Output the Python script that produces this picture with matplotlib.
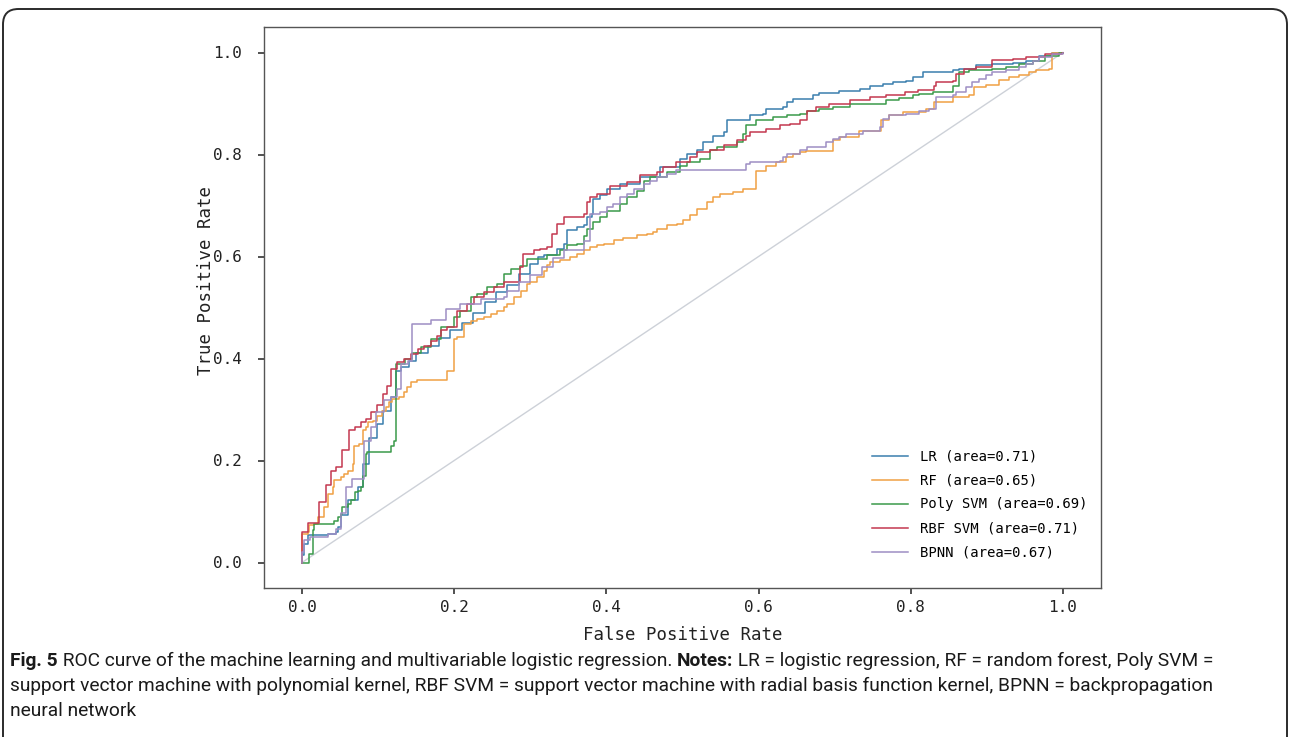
import matplotlib
matplotlib.use("Agg")
import matplotlib.pyplot as plt
from matplotlib.patches import FancyBboxPatch

# ---------------- data ----------------
labels = ["LR (area=0.71)", "RF (area=0.65)", "Poly SVM (area=0.69)",
          "RBF SVM (area=0.71)", "BPNN (area=0.67)"]
colors = ["#3b7fae", "#f0a044", "#3a9a4a", "#c4384f", "#9e8ec4"]

lr_fpr = [0, 0, 0.003, 0.003, 0.0074, 0.0074, 0.034, 0.045, 0.047, 0.051, 0.06, 0.073, 0.08, 0.088, 0.099,
          0.106, 0.117, 0.123, 0.13, 0.14, 0.15, 0.165, 0.18, 0.195, 0.21, 0.225, 0.24, 0.255, 0.27, 0.285,
          0.30, 0.31, 0.318, 0.335, 0.344, 0.348, 0.361, 0.37, 0.374, 0.381, 0.383, 0.392, 0.401, 0.418,
          0.444, 0.471, 0.497, 0.506, 0.519, 0.527, 0.54, 0.554, 0.558, 0.584, 0.589, 0.606, 0.61, 0.632,
          0.637, 0.645, 0.672, 0.68, 0.706, 0.733, 0.746, 0.763, 0.776, 0.794, 0.803, 0.816, 0.855, 0.864,
          0.886, 0.907, 0.934, 0.951, 0.969, 0.986, 1.0]
lr_tpr = [0, 0.014, 0.014, 0.037, 0.037, 0.053, 0.056, 0.06, 0.069, 0.093, 0.122, 0.148, 0.193, 0.245, 0.272,
          0.298, 0.324, 0.376, 0.383, 0.395, 0.41, 0.425, 0.44, 0.455, 0.47, 0.49, 0.51, 0.53, 0.545, 0.565,
          0.585, 0.60, 0.602, 0.615, 0.624, 0.651, 0.658, 0.661, 0.677, 0.684, 0.713, 0.72, 0.733, 0.743,
          0.756, 0.775, 0.792, 0.801, 0.808, 0.824, 0.837, 0.844, 0.867, 0.868, 0.877, 0.88, 0.89, 0.893,
          0.903, 0.909, 0.916, 0.92, 0.925, 0.929, 0.935, 0.939, 0.942, 0.945, 0.952, 0.961, 0.965, 0.968,
          0.975, 0.978, 0.979, 0.984, 0.994, 0.999, 1.0]

rf_fpr = [0, 0, 0.0074, 0.0096, 0.0162, 0.0205, 0.0293, 0.0336, 0.0402, 0.0424, 0.051, 0.0555, 0.0599,
          0.0665, 0.0686, 0.0752, 0.0795, 0.0839, 0.0861, 0.0927, 0.099, 0.1057, 0.11, 0.1144, 0.1188,
          0.1275, 0.134, 0.1385, 0.1428, 0.1516, 0.191, 0.1996, 0.204, 0.2127, 0.2215, 0.2302, 0.239,
          0.2477, 0.2564, 0.2652, 0.2696, 0.2783, 0.2871, 0.2958, 0.3001, 0.3089, 0.3176, 0.322, 0.3263,
          0.3394, 0.3526, 0.3613, 0.37, 0.3788, 0.3875, 0.3963, 0.4094, 0.4224, 0.4399, 0.453, 0.4618,
          0.4661, 0.4792, 0.4923, 0.501, 0.5098, 0.5186, 0.5317, 0.5404, 0.5492, 0.5666, 0.5797, 0.5972,
          0.6103, 0.6234, 0.6365, 0.6453, 0.654, 0.6627, 0.6977, 0.7064, 0.7326, 0.7611, 0.772, 0.7895,
          0.82, 0.8309, 0.855, 0.8768, 0.8834, 0.8986, 0.9161, 0.9293, 0.9423, 0.9554, 0.9642, 0.9817,
          0.986, 1.0]
rf_tpr = [0, 0.056, 0.06, 0.073, 0.076, 0.089, 0.108, 0.135, 0.148, 0.161, 0.167, 0.174, 0.18,
          0.193, 0.229, 0.232, 0.259, 0.265, 0.275, 0.278, 0.288, 0.298, 0.305, 0.314, 0.321,
          0.324, 0.334, 0.344, 0.353, 0.357, 0.376, 0.4386, 0.442, 0.468, 0.4745, 0.4778, 0.481,
          0.4876, 0.494, 0.5007, 0.5072, 0.5203, 0.5333, 0.5464, 0.5497, 0.5595, 0.5725, 0.5824, 0.589,
          0.5922, 0.5987, 0.6052, 0.6118, 0.6183, 0.6216, 0.6248, 0.6314, 0.6366, 0.6412, 0.6444, 0.6477,
          0.6542, 0.6608, 0.664, 0.6706, 0.6804, 0.6935, 0.7065, 0.7163, 0.7229, 0.7261, 0.7327, 0.7686,
          0.7784, 0.785, 0.7948, 0.8013, 0.8046, 0.8078, 0.8275, 0.834, 0.847, 0.8667, 0.8765, 0.883,
          0.8895, 0.9026, 0.9137, 0.9176, 0.932, 0.9353, 0.9451, 0.9516, 0.9562, 0.9614, 0.966, 0.968,
          0.999, 1.0]

poly_fpr = [0, 0.0096, 0.014, 0.016, 0.042, 0.047, 0.051, 0.053, 0.06, 0.064, 0.069, 0.073, 0.077, 0.08,
            0.084, 0.086, 0.117, 0.121, 0.123, 0.135, 0.145, 0.156, 0.169, 0.182, 0.20, 0.208, 0.222,
            0.23, 0.243, 0.256, 0.265, 0.274, 0.287, 0.296, 0.322, 0.339, 0.348, 0.361, 0.37, 0.374,
            0.383, 0.392, 0.401, 0.418, 0.427, 0.44, 0.449, 0.457, 0.479, 0.497, 0.506, 0.523, 0.536,
            0.545, 0.558, 0.571, 0.58, 0.584, 0.597, 0.619, 0.637, 0.654, 0.663, 0.68, 0.698, 0.72,
            0.746, 0.768, 0.785, 0.803, 0.811, 0.829, 0.855, 0.864, 0.877, 0.907, 0.925, 0.942, 0.96,
            0.977, 0.995, 1.0]
poly_tpr = [0, 0.017, 0.063, 0.076, 0.082, 0.089, 0.095, 0.108, 0.115, 0.122, 0.138, 0.141, 0.148, 0.17,
            0.213, 0.216, 0.229, 0.239, 0.39, 0.40, 0.41, 0.422, 0.439, 0.461, 0.481, 0.494, 0.52,
            0.527, 0.54, 0.546, 0.566, 0.576, 0.582, 0.595, 0.602, 0.612, 0.622, 0.625, 0.641, 0.654,
            0.667, 0.677, 0.69, 0.703, 0.716, 0.729, 0.749, 0.756, 0.765, 0.778, 0.785, 0.792, 0.808,
            0.814, 0.814, 0.824, 0.841, 0.857, 0.867, 0.873, 0.877, 0.88, 0.886, 0.889, 0.893, 0.899,
            0.90, 0.906, 0.911, 0.916, 0.919, 0.922, 0.935, 0.961, 0.965, 0.968, 0.971, 0.978, 0.984,
            0.994, 0.999, 1.0]

rbf_fpr = [0, 0, 0.0074, 0.022, 0.031, 0.038, 0.045, 0.053, 0.062, 0.069, 0.077, 0.084, 0.090, 0.099,
           0.106, 0.112, 0.117, 0.125, 0.134, 0.143, 0.152, 0.160, 0.169, 0.178, 0.182, 0.191, 0.204,
           0.217, 0.226, 0.239, 0.252, 0.265, 0.274, 0.287, 0.291, 0.305, 0.313, 0.322, 0.329, 0.335,
           0.344, 0.37, 0.374, 0.379, 0.388, 0.405, 0.427, 0.444, 0.466, 0.475, 0.492, 0.51, 0.519,
           0.536, 0.554, 0.571, 0.584, 0.589, 0.61, 0.628, 0.641, 0.654, 0.663, 0.676, 0.693, 0.72,
           0.746, 0.768, 0.793, 0.81, 0.831, 0.833, 0.855, 0.859, 0.87, 0.886, 0.907, 0.934, 0.951,
           0.977, 0.999, 1.0]
rbf_tpr = [0, 0.059, 0.077, 0.118, 0.151, 0.18, 0.187, 0.22, 0.259, 0.265, 0.275, 0.282, 0.295, 0.308,
           0.331, 0.347, 0.38, 0.393, 0.399, 0.409, 0.419, 0.425, 0.435, 0.445, 0.455, 0.461, 0.494,
           0.507, 0.52, 0.53, 0.54, 0.55, 0.55, 0.579, 0.605, 0.612, 0.615, 0.618, 0.644, 0.664,
           0.677, 0.684, 0.706, 0.716, 0.723, 0.739, 0.746, 0.759, 0.765, 0.775, 0.785, 0.795, 0.805,
           0.809, 0.818, 0.828, 0.837, 0.844, 0.85, 0.857, 0.86, 0.867, 0.886, 0.893, 0.899, 0.906,
           0.912, 0.916, 0.922, 0.926, 0.935, 0.942, 0.945, 0.958, 0.968, 0.971, 0.986, 0.988, 0.991,
           0.997, 0.999, 1.0]

bp_fpr = [0, 0, 0.003, 0.003, 0.01, 0.034, 0.045, 0.051, 0.058, 0.066, 0.081, 0.09, 0.097, 0.108, 0.117,
          0.125, 0.13, 0.139, 0.145, 0.169, 0.189, 0.208, 0.235, 0.265, 0.27, 0.285, 0.30, 0.315, 0.33,
          0.344, 0.37, 0.378, 0.392, 0.401, 0.409, 0.418, 0.427, 0.436, 0.449, 0.457, 0.466, 0.479,
          0.492, 0.58, 0.584, 0.589, 0.628, 0.632, 0.637, 0.654, 0.663, 0.689, 0.698, 0.706, 0.715,
          0.737, 0.759, 0.763, 0.772, 0.794, 0.811, 0.824, 0.833, 0.846, 0.855, 0.859, 0.872, 0.881,
          0.89, 0.899, 0.907, 0.925, 0.942, 0.951, 0.96, 0.969, 0.986, 1.0]
bp_tpr = [0, 0.02, 0.02, 0.045, 0.05, 0.055, 0.065, 0.097, 0.148, 0.164, 0.239, 0.265, 0.295, 0.318, 0.324,
          0.341, 0.389, 0.396, 0.468, 0.475, 0.497, 0.507, 0.517, 0.52, 0.533, 0.55, 0.563, 0.58, 0.598,
          0.612, 0.631, 0.684, 0.687, 0.697, 0.703, 0.716, 0.723, 0.733, 0.743, 0.749, 0.756, 0.762,
          0.769, 0.769, 0.782, 0.785, 0.788, 0.795, 0.801, 0.808, 0.814, 0.824, 0.831, 0.834, 0.84,
          0.847, 0.854, 0.87, 0.877, 0.88, 0.886, 0.89, 0.913, 0.913, 0.916, 0.922, 0.932, 0.942,
          0.948, 0.955, 0.961, 0.965, 0.971, 0.978, 0.984, 0.991, 0.997, 1.0]

diag = [0, 1]
xticks = [0.0, 0.2, 0.4, 0.6, 0.8, 1.0]
yticks = [0.0, 0.2, 0.4, 0.6, 0.8, 1.0]

caption_lines = [
    [("Fig. 5", "bold"), (" ROC curve of the machine learning and multivariable logistic regression. ", "normal"),
     ("Notes:", "bold"), (" LR = logistic regression, RF = random forest, Poly SVM =", "normal")],
    [("support vector machine with polynomial kernel, RBF SVM = support vector machine with radial basis function kernel, BPNN = backpropagation", "normal")],
    [("neural network", "normal")],
]

# ---------------- figure ----------------
W, H = 1290, 737
fig = plt.figure(figsize=(W / 100, H / 100), dpi=100)
fig.patch.set_facecolor("white")

# outer rounded frame
frame = FancyBboxPatch((3 / W, -30 / H), (W - 6) / W, (H - 9 + 30) / H,
                       boxstyle="round,pad=0,rounding_size=0.012",
                       transform=fig.transFigure, fill=False,
                       edgecolor="#2b2b2b", linewidth=1.4, mutation_aspect=W / H)
fig.add_artist(frame)

ax = fig.add_axes([264 / W, 1 - 588 / H, (1101 - 264) / W, (588 - 27) / H])
mono = "DejaVu Sans Mono"

ax.plot(diag, diag, color="#cdd1d8", lw=1.0, zorder=1)
series = [(lr_fpr, lr_tpr), (rf_fpr, rf_tpr), (poly_fpr, poly_tpr), (rbf_fpr, rbf_tpr), (bp_fpr, bp_tpr)]
for (fx, ty), lab, col in zip(series, labels, colors):
    ax.plot(fx, ty, drawstyle="steps-post", color=col, lw=1.1, label=lab, zorder=2)

ax.set_xlim(-0.05, 1.05)
ax.set_ylim(-0.05, 1.05)
ax.set_xticks(xticks)
ax.set_yticks(yticks)
ax.set_xticklabels([f"{v:.1f}" for v in xticks], family=mono, fontsize=11.5, color="#222222")
ax.set_yticklabels([f"{v:.1f}" for v in yticks], family=mono, fontsize=11.5, color="#222222")
ax.tick_params(axis="x", length=4, width=1.2, color="#333333", pad=5)
ax.tick_params(axis="y", length=4, width=1.2, color="#333333", pad=12)
for s in ax.spines.values():
    s.set_color("#555555")
    s.set_linewidth(1.0)

ax.set_xlabel("False Positive Rate", family=mono, fontsize=12.5, color="#222222")
ax.set_ylabel("True Positive Rate", family=mono, fontsize=12.5, color="#222222")
ax.xaxis.set_label_coords(0.5, -0.068)
ax.yaxis.set_label_coords(-0.059, 0.549)

leg = ax.legend(loc="lower right", bbox_to_anchor=(0.984, 0.051), frameon=False,
                prop={"family": mono, "size": 10}, handlelength=2.6, handletextpad=0.85,
                labelspacing=0.72, borderaxespad=0, borderpad=0)

# caption, font size fitted so that the first line spans the reference width
cap_font = ["Roboto", "DejaVu Sans"]
renderer = fig.canvas.get_renderer()
y_px = [661, 686, 711]
target_w = 1202.0
base = 13.0
# measure first line at base size
tmp = []
wsum = 0.0
for txt, wt in caption_lines[0]:
    t = fig.text(0, 0, txt, family=cap_font, fontsize=base, weight=wt)
    wsum += t.get_window_extent(renderer=renderer).width
    tmp.append(t)
for t in tmp:
    t.remove()
size = base * target_w / wsum

for line, yp in zip(caption_lines, y_px):
    x = 10 / W
    for txt, wt in line:
        t = fig.text(x, 1 - yp / H, txt, family=cap_font, fontsize=size, weight=wt,
                     va="center", ha="left", color="#1a1a1a")
        bb = t.get_window_extent(renderer=renderer)
        x += bb.width / W

fig.savefig("out.png", dpi=100, facecolor="white")
